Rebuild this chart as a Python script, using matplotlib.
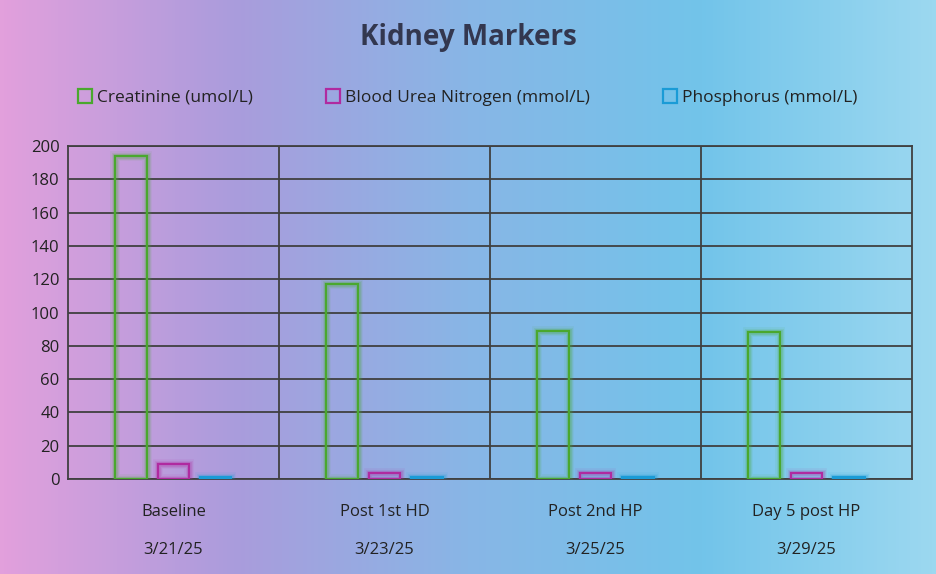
import matplotlib.pyplot as plt
import numpy as np
from matplotlib.patches import Patch
from matplotlib.colors import LinearSegmentedColormap

plt.rcParams['font.family'] = ['Open Sans', 'DejaVu Sans']

categories = ["Baseline", "Post 1st HD", "Post 2nd HP", "Day 5 post HP"]
dates = ["3/21/25", "3/23/25", "3/25/25", "3/29/25"]
creatinine = [194, 117, 89, 88]
bun = [8.9, 3.6, 3.4, 3.8]
phosphorus = [1.3, 1.0, 1.3, 1.0]

series = [
    ("Creatinine (umol/L)", creatinine, "#4aa82e"),
    ("Blood Urea Nitrogen (mmol/L)", bun, "#b02aa0"),
    ("Phosphorus (mmol/L)", phosphorus, "#1a9bd6"),
]

fig = plt.figure(figsize=(9.36, 5.74), dpi=100)

# gradient background
bg = fig.add_axes([0, 0, 1, 1], zorder=-10)
cmap = LinearSegmentedColormap.from_list("bg", ["#e2a0dc", "#aa9cdc", "#88b6e6", "#72c4ea", "#9cd8f0"])
bg.imshow(np.linspace(0, 1, 256).reshape(1, -1), aspect="auto", cmap=cmap, extent=[0, 1, 0, 1])
bg.axis("off")

ax = fig.add_axes([0.0726, 0.1655, 0.9018, 0.5801])
ax.patch.set_alpha(0)

x = np.arange(len(categories))
width = 0.15
offsets = [-0.2, 0.0, 0.2]

for (name, vals, col), off in zip(series, offsets):
    # soft glow
    for lw, a in [(7, 0.08), (5, 0.12), (3.5, 0.18)]:
        ax.bar(x + off, vals, width, facecolor="none", edgecolor=col, linewidth=lw, alpha=a, zorder=3)
    ax.bar(x + off, vals, width, facecolor="none", edgecolor=col, linewidth=1.6, zorder=4)

ax.set_xlim(-0.5, len(categories) - 0.5)
ax.set_ylim(0, 200)
ax.set_yticks(range(0, 201, 20))
ax.grid(axis="y", color="#404040", linewidth=1.3, zorder=1)
for b in np.arange(0.5, len(categories) - 0.5, 1):
    ax.axvline(b, color="#404040", linewidth=1.3, zorder=1)
for s in ax.spines.values():
    s.set_color("#404040")
    s.set_linewidth(1.3)

ax.set_xticks(x)
ax.set_xticklabels(categories, fontsize=12, color="#222222")
ax.tick_params(axis="x", length=0, pad=18)
ax.tick_params(axis="y", length=0, labelsize=12, labelcolor="#222222", pad=6)
for xi, d in zip(x, dates):
    ax.annotate(d, (xi, 0), xycoords=("data", "axes fraction"), xytext=(0, -51),
                textcoords="offset points", ha="center", va="center", fontsize=12, color="#222222")

fig.text(0.5, 0.935, "Kidney Markers", ha="center", va="center", fontsize=20,
         fontweight="bold", color="#33374f")

handles = [Patch(facecolor="none", edgecolor=c, linewidth=1.6, label=n) for n, _, c in series]
fig.legend(handles=handles, loc="center", bbox_to_anchor=(0.5, 0.83), ncol=3, frameon=False,
           fontsize=12.5, handlelength=0.8, handleheight=0.8, handletextpad=0.3, columnspacing=4.2,
           labelcolor="#222222")

fig.savefig("out.png", dpi=100)
